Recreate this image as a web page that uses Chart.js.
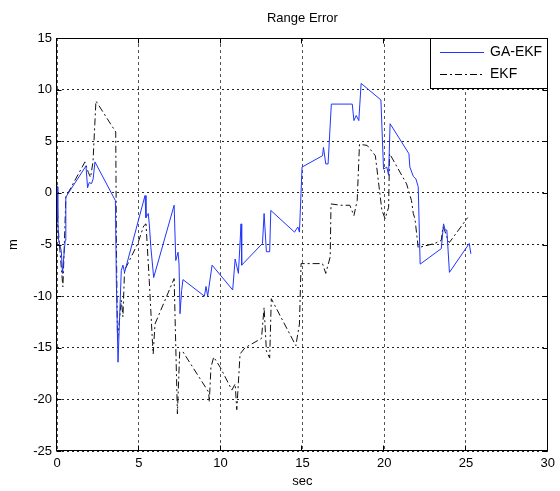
<!DOCTYPE html>
<html>
<head>
<meta charset="utf-8">
<script src="https://cdn.jsdelivr.net/npm/chart.js@4.4.0/dist/chart.umd.min.js"></script>
<style>
  html, body { margin: 0; padding: 0; background: #fff; }
  #wrap { width: 560px; height: 491px; }
</style>
</head>
<body>
<div id="wrap"><canvas id="rangeChart"></canvas></div>
<script>
const xTicks = [0, 5, 10, 15, 20, 25, 30];
const yTicks = [-25, -20, -15, -10, -5, 0, 5, 10, 15];

// GA-EKF range error (m) vs time (sec)
const gaTime = [0, 0.05, 0.1, 0.26, 0.34, 0.4, 0.5, 0.54, 1.77, 1.87, 1.97, 2.11, 2.21, 2.32,
  3.57, 3.63, 3.73, 3.93, 4.03, 4.13, 4.19, 5.38, 5.44, 5.58, 5.64, 5.74, 5.91, 7.16, 7.26,
  7.4, 7.46, 7.52, 7.62, 7.7, 9.01, 9.11, 9.21, 9.48, 10.74, 10.89, 11.09, 11.25, 11.29,
  12.56, 12.66, 12.8, 13.0, 13.07, 14.52, 14.72, 14.82, 14.98, 16.23, 16.29, 16.43, 16.57,
  16.77, 18.05, 18.15, 18.29, 18.45, 18.59, 19.8, 19.96, 20.16, 20.27, 20.36, 21.51, 21.57,
  21.78, 21.94, 22.08, 22.2, 23.49, 23.63, 23.73, 23.83, 23.99, 25.2, 25.3];
const gaErr = [0.6, -2.5, -4.6, -5.6, -7.8, -6.5, -4.6, -0.4, 2.6, 0.5, 1.0, 0.9, 1.35, 3.0,
  -0.75, -8.8, -16.4, -7.5, -7.0, -7.7, -7.35, -0.26, -2.4, -2.0, -3.0, -5.3, -8.2, -1.2, -6.55,
  -5.75, -6.9, -11.7, -9.45, -8.4, -10.0, -9.06, -10.0, -7.0, -9.4, -6.4, -7.8, -3.0, -7.0,
  -4.9, -2.0, -5.7, -5.7, -1.7, -3.8, -3.3, -3.8, 2.5, 3.6, 4.4, 2.8, 2.8,
  8.6, 8.6, 7.0, 7.5, 7.0, 10.6, 9.0, 2.3, 2.5, 1.7, 6.7, 3.8, 2.5,
  1.6, 1.35, 0.6, -6.9, -5.4, -3.0, -3.6, -3.6, -7.7, -4.9, -5.9];

// EKF range error (m) vs time (sec)
const ekfTime = [0, 0.05, 0.2, 0.36, 0.45, 0.54, 1.71, 1.91, 2.05, 2.2, 2.38, 3.59, 3.63, 3.7,
  3.93, 4.03, 4.13, 4.94, 5.3, 5.44, 5.64, 5.84, 5.88, 5.99, 7.16, 7.36, 7.5, 7.7, 9.27, 9.31,
  9.41, 9.58, 9.98, 10.69, 10.89, 10.99, 11.19, 11.49, 12.5, 12.66, 12.8, 13.0, 13.1, 14.6,
  14.82, 14.92, 16.23, 16.43, 16.7, 16.75, 17.34, 17.9, 18.15, 18.35, 18.49, 18.96, 19.46,
  19.86, 20.06, 20.27, 20.33, 21.37, 21.67, 21.78, 21.88, 22.08, 23.09, 23.49, 23.59, 23.69,
  23.9, 23.99, 25.1];
const ekfErr = [0.7, -3.0, -6.0, -9.1, -5.0, -0.4, 3.0, 2.0, 1.5, 3.0, 8.9, 5.9, -5.0, -14.3,
  -10.4, -12.0, -7.5, -4.9, -3.2, -3.0, -8.5, -14.6, -15.6, -12.7, -8.3, -21.4, -15.4, -15.4, -19.3, -20.25,
  -16.9, -15.9, -16.9, -19.1, -18.5, -21.0, -15.6, -15.0, -14.1, -11.1, -15.3, -16.0, -10.25, -14.8,
  -12.7, -6.85, -6.85, -7.8, -6.2, -1.07, -1.2, -1.2, -2.2, -0.75, 4.7, 4.6, 3.6,
  -1.7, -2.5, -1.4, 3.8, 0.87, -0.75, -2.0, -2.5, -5.3, -4.9, -4.6, -3.3, -3.6,
  -4.6, -4.8, -2.4];

const FONT = 'Liberation Sans, Arial, sans-serif';
const BLUE = '#2035ff';
const EKF_DASH = [7, 3, 2, 3];

const toPoints = (xs, ys) => xs.map((x, i) => ({ x: x, y: ys[i] }));

// box, inward ticks, title and legend drawn over the plot
const framePlugin = {
  id: 'frame',
  afterDraw(chart) {
    const { ctx, chartArea: a, scales } = chart;
    const l = Math.round(a.left) - 0.5, r = Math.round(a.right) - 0.5;
    const t = Math.round(a.top) + 0.5, b = Math.round(a.bottom) - 0.5;
    ctx.save();
    ctx.strokeStyle = '#000';
    ctx.lineWidth = 1;
    ctx.setLineDash([]);
    ctx.strokeRect(l, t, r - l, b - t);

    ctx.beginPath();
    xTicks.forEach(v => {
      const x = Math.round(scales.x.getPixelForValue(v)) - 0.5;
      ctx.moveTo(x, b); ctx.lineTo(x, b - 5);
      ctx.moveTo(x, t); ctx.lineTo(x, t + 5);
    });
    yTicks.forEach(v => {
      const y = Math.round(scales.y.getPixelForValue(v)) + 0.5;
      ctx.moveTo(l, y); ctx.lineTo(l + 5, y);
      ctx.moveTo(r, y); ctx.lineTo(r - 5, y);
    });
    ctx.stroke();

    // title
    ctx.fillStyle = '#000';
    ctx.font = '13px ' + FONT;
    ctx.textAlign = 'center';
    ctx.textBaseline = 'middle';
    ctx.fillText('Range Error', (a.left + a.right) / 2, 18);

    // legend box in the top right corner
    const lx = 430.5, ly = t, lw = r - lx, lh = 50;
    ctx.fillStyle = '#fff';
    ctx.fillRect(lx, ly, lw, lh);
    ctx.strokeRect(lx, ly, lw, lh);

    ctx.lineWidth = 1;
    ctx.strokeStyle = BLUE;
    ctx.beginPath();
    ctx.moveTo(440, 52.5); ctx.lineTo(484, 52.5);
    ctx.stroke();

    ctx.strokeStyle = '#000';
    ctx.setLineDash(EKF_DASH);
    ctx.beginPath();
    ctx.moveTo(440, 74.5); ctx.lineTo(484, 74.5);
    ctx.stroke();
    ctx.setLineDash([]);

    ctx.fillStyle = '#000';
    ctx.font = '14px ' + FONT;
    ctx.textAlign = 'left';
    ctx.fillText('GA-EKF', 490, 52);
    ctx.fillText('EKF', 490, 74);
    ctx.restore();
  }
};

new Chart(document.getElementById('rangeChart'), {
  type: 'line',
  data: {
    datasets: [
      {
        label: 'GA-EKF',
        data: toPoints(gaTime, gaErr),
        borderColor: BLUE,
        borderWidth: 1,
        pointRadius: 0,
        tension: 0,
        fill: false
      },
      {
        label: 'EKF',
        data: toPoints(ekfTime, ekfErr),
        borderColor: '#111',
        borderWidth: 1,
        borderDash: EKF_DASH,
        pointRadius: 0,
        tension: 0,
        fill: false
      }
    ]
  },
  options: {
    responsive: true,
    maintainAspectRatio: false,
    animation: false,
    devicePixelRatio: 1,
    layout: { padding: { top: 38, right: 8, bottom: 0, left: 0 } },
    plugins: {
      legend: { display: false },
      title: { display: false },
      tooltip: { enabled: false }
    },
    scales: {
      x: {
        type: 'linear',
        min: 0,
        max: 30,
        afterBuildTicks: s => { s.ticks = xTicks.map(v => ({ value: v })); },
        afterFit: s => { s.height = 40; },
        ticks: { color: '#000', padding: 5, maxRotation: 0, font: { family: FONT, size: 13 } },
        grid: { color: '#555', drawTicks: false },
        border: { display: false, dash: [3, 3] },
        title: {
          display: true, text: 'sec', color: '#000',
          font: { family: FONT, size: 13 }, padding: { top: 0, bottom: 2 }
        }
      },
      y: {
        type: 'linear',
        min: -25,
        max: 15,
        afterBuildTicks: s => { s.ticks = yTicks.map(v => ({ value: v })); },
        afterFit: s => { s.width = 57; },
        ticks: { color: '#000', padding: 5, font: { family: FONT, size: 13 } },
        grid: { color: '#222', drawTicks: false },
        border: { display: false, dash: [2, 3] },
        title: {
          display: true, text: 'm', color: '#000',
          font: { family: FONT, size: 13 }, padding: { top: 6, bottom: 0 }
        }
      }
    }
  },
  plugins: [framePlugin]
});
</script>
</body>
</html>
